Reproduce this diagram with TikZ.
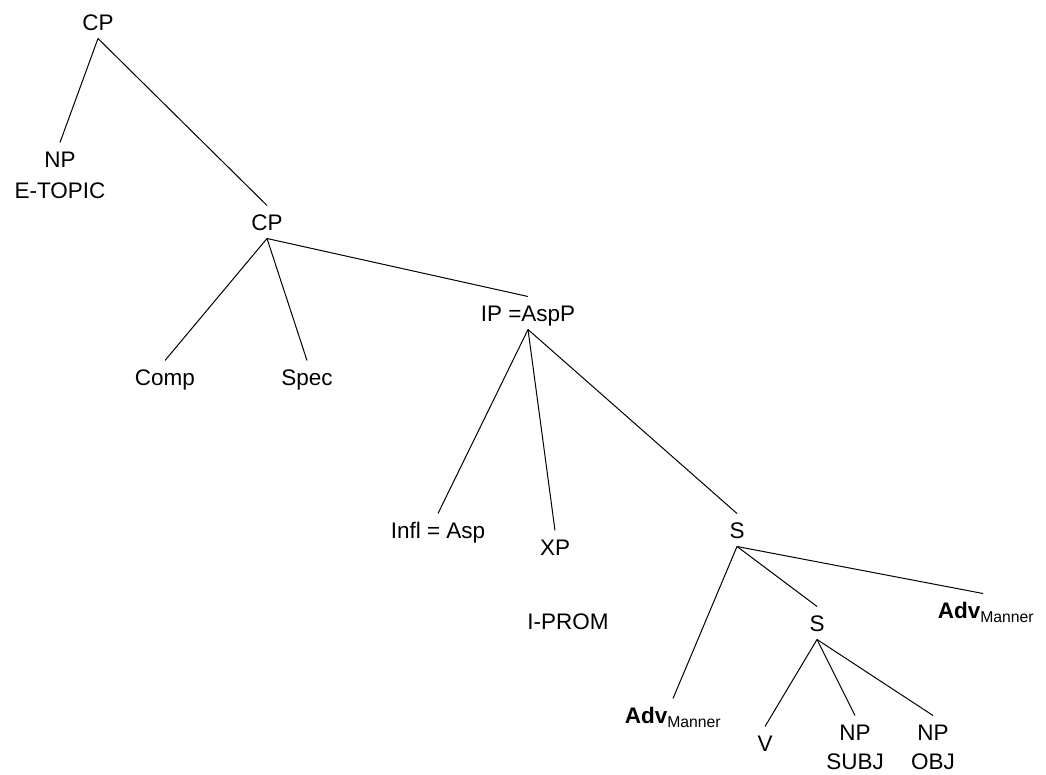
\documentclass[tikz,border=0pt]{standalone}
\usepackage{fontspec}
\setmainfont{Liberation Sans}
\begin{document}
\begin{tikzpicture}[x=1pt,y=-1pt,
  lbl/.style={inner sep=0pt,outer sep=3pt,text height=22pt,text depth=5pt,font=\fontsize{22.5}{27}\selectfont},
  plain/.style={inner sep=0pt,font=\fontsize{22.5}{27}\selectfont},
  edge/.style={line width=1pt,black}]
\useasboundingbox (0,0) rectangle (1046,775);
\node[lbl] (cp1) at (98,22) {CP};
\node[lbl] (np1) at (60,159) {NP};
\node[plain] (etopic) at (60,191) {E-TOPIC};
\node[lbl] (cp2) at (267,222) {CP};
\node[lbl] (comp) at (165,377) {Comp};
\node[lbl] (spec) at (307,377) {Spec};
\node[lbl] (ip) at (528,313) {IP =AspP};
\node[lbl] (infl) at (438,530) {Infl = Asp};
\node[lbl] (xp) at (555,547) {XP};
\node[plain] (iprom) at (568,622) {I-PROM};
\node[lbl] (s1) at (737,530) {S};
\node[lbl] (s2) at (817,623) {S};
\node[lbl] (advR) at (986,610) {\textbf{Adv}\textsubscript{Manner}};
\node[lbl] (advL) at (673,715) {\textbf{Adv}\textsubscript{Manner}};
\node[lbl] (v) at (765,743) {V};
\node[lbl] (np2) at (855,732) {NP};
\node[plain] (subj) at (855,762) {SUBJ};
\node[lbl] (np3) at (933,732) {NP};
\node[plain] (obj) at (933,762) {OBJ};
\draw[edge] (cp1.south) -- (np1.north);
\draw[edge] (cp1.south) -- (cp2.north);
\draw[edge] (cp2.south) -- (comp.north);
\draw[edge] (cp2.south) -- (spec.north);
\draw[edge] (cp2.south) -- (ip.north);
\draw[edge] (ip.south) -- (infl.north);
\draw[edge] (ip.south) -- (xp.north);
\draw[edge] (ip.south) -- (s1.north);
\draw[edge] (s1.south) -- (advL.north);
\draw[edge] (s1.south) -- (s2.north);
\draw[edge] (s1.south) -- ([xshift=-3pt]advR.north);
\draw[edge] (s2.south) -- (v.north);
\draw[edge] (s2.south) -- (np2.north);
\draw[edge] (s2.south) -- (np3.north);
\end{tikzpicture}
\end{document}
